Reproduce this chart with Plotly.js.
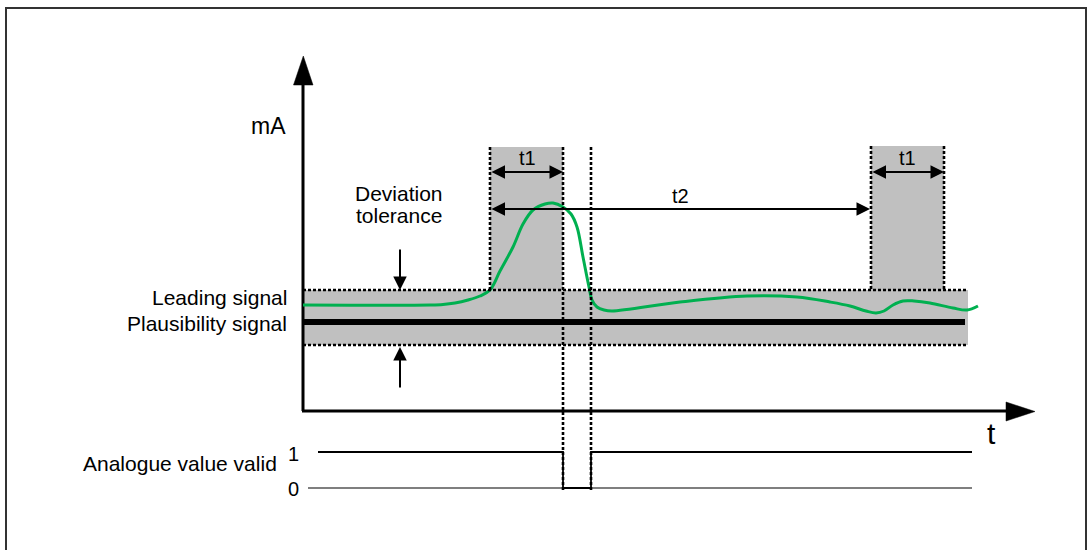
<!DOCTYPE html>
<html>
<head>
<meta charset="utf-8">
<script src="https://cdn.plot.ly/plotly-3.0.1.min.js"></script>
<style>html,body{margin:0;padding:0;background:#fff;}#chart{width:1088px;height:550px;}</style>
</head>
<body>
<div id="chart"></div>
<script>
// ---- Diagram data (diagram units: 1 unit = 1 px, y grows downward) ----
// Leading signal (green curve)
const leadT  = [303, 430, 443, 455, 468, 480, 490, 500, 513, 523, 533, 545, 553, 563, 571, 577, 583, 589, 592, 597, 604, 612, 680, 747, 797, 830, 850, 866, 876, 884, 893, 903, 914, 930, 953, 967, 978];
const leadMA = [305, 305, 304.5, 303, 300, 296, 290, 271, 247, 224, 210, 204, 203, 207, 214, 227, 257, 287, 300, 307, 310, 311, 302, 296, 297, 302, 306, 311, 313, 311, 305, 301, 301, 303, 308, 310, 306];
// Plausibility signal (thick black line)
const plausT  = [303, 965];
const plausMA = [322, 322];
// Analogue value valid (binary signal)
const validT   = [318, 563, 563, 591, 591, 972];
const validLvl = [452, 452, 488, 488, 452, 452];
const zeroT    = [308, 972];
const zeroLvl  = [488, 488];
// Tolerance band and t1 windows
const bandT  = [303, 968];
const bandMA = [290, 345];
const win1T  = [490, 563];
const win2T  = [871, 944];
const winTop = [147, 290];
const faultEndT = 591;
const t2Span = [490, 870];
// Labels
const tickLabels = ["1", "0"];
const rowLabels = ["Leading signal", "Plausibility signal"];

const FONT = '"Liberation Sans", Arial, sans-serif';
const GRAY = '#c0c0c0';
const GREEN = '#00b050';

const traces = [
  // y axis line
  {x: [303, 303], y: [411, 84], mode: 'lines', line: {color: '#000', width: 3}},
  // x axis line
  {x: [302, 1007], y: [411, 411], mode: 'lines', line: {color: '#000', width: 3}},
  // axis arrowheads
  {x: [293.5, 313, 303.3, 293.5], y: [85, 85, 56, 85], mode: 'lines', fill: 'toself', fillcolor: '#000', line: {color: '#000', width: 0.5}},
  {x: [1006, 1006, 1035, 1006], y: [402, 421, 411.5, 402], mode: 'lines', fill: 'toself', fillcolor: '#000', line: {color: '#000', width: 0.5}},
  // plausibility
  {x: plausT, y: plausMA, mode: 'lines', line: {color: '#000', width: 6}},
  // leading
  {x: leadT, y: leadMA, mode: 'lines', line: {color: GREEN, width: 3, shape: 'spline', smoothing: 1}},
  // valid signal
  {x: zeroT, y: zeroLvl, mode: 'lines', line: {color: '#000', width: 1.2}},
  {x: validT, y: validLvl, mode: 'lines', line: {color: '#000', width: 1.8}}
];

const dot = {color: '#000', width: 2.6, dash: '3px,2px'};
const shapes = [
  {type: 'rect', xref: 'x', yref: 'y', x0: 6, x1: 1086, y0: 8, y1: 600, line: {color: '#333', width: 2}, layer: 'below'},
  {type: 'rect', x0: bandT[0], x1: bandT[1], y0: bandMA[0], y1: bandMA[1], fillcolor: GRAY, line: {width: 0}, layer: 'below'},
  {type: 'rect', x0: win1T[0], x1: win1T[1], y0: winTop[0], y1: winTop[1], fillcolor: GRAY, line: {width: 0}, layer: 'below'},
  {type: 'rect', x0: win2T[0], x1: win2T[1], y0: winTop[0] - 1, y1: winTop[1], fillcolor: GRAY, line: {width: 0}, layer: 'below'},
  // band dotted borders
  {type: 'line', x0: bandT[0], x1: bandT[1], y0: bandMA[0], y1: bandMA[0], line: dot},
  {type: 'line', x0: bandT[0], x1: bandT[1], y0: bandMA[1], y1: bandMA[1], line: dot},
  // window verticals
  {type: 'line', x0: win1T[0], x1: win1T[0], y0: winTop[0], y1: winTop[1], line: dot},
  {type: 'line', x0: win1T[1], x1: win1T[1], y0: winTop[0], y1: 490, line: dot},
  {type: 'line', x0: faultEndT, x1: faultEndT, y0: winTop[0], y1: 490, line: dot},
  {type: 'line', x0: win2T[0], x1: win2T[0], y0: winTop[0] - 1, y1: winTop[1], line: dot},
  {type: 'line', x0: win2T[1], x1: win2T[1], y0: winTop[0] - 1, y1: winTop[1], line: dot}
];

function arrow(x0, y0, x1, y1, both) {
  return {x: x1, y: y1, ax: x0, ay: y0, xref: 'x', yref: 'y', axref: 'x', ayref: 'y',
    text: '', showarrow: true, arrowhead: 2, arrowsize: 1.35, arrowwidth: 2, arrowcolor: '#000',
    arrowside: both ? 'end+start' : 'end', startarrowhead: 2, startarrowsize: 1.35};
}
function label(x, y, text, size, xanchor) {
  return {x: x, y: y, xref: 'x', yref: 'y', text: text, showarrow: false,
    font: {family: FONT, size: size, color: '#000'}, xanchor: xanchor || 'center', yanchor: 'middle'};
}

const annotations = [
  arrow(win1T[0], 172, win1T[1], 172, true),
  arrow(win2T[0], 172, win2T[1], 172, true),
  arrow(t2Span[0], 209, t2Span[1], 209, true),
  arrow(400, 248, 400, 290, false),
  arrow(400, 389, 400, 347, false),
  label(268, 126, 'mA', 23),
  label(991, 433, 't', 30),
  label(527, 158, 't1', 20),
  label(907, 158, 't1', 20),
  label(680, 196, 't2', 20),
  label(399, 193, 'Deviation', 21),
  label(399, 215, 'tolerance', 21),
  label(289, 297, rowLabels[0], 21, 'right'),
  label(289, 323, rowLabels[1], 21, 'right'),
  label(279, 463, 'Analogue value valid', 21, 'right'),
  label(293, 454, tickLabels[0], 20),
  label(293, 489, tickLabels[1], 20)
];

const layout = {
  width: 1088, height: 550,
  margin: {l: 0, r: 0, t: 0, b: 0},
  paper_bgcolor: '#fff', plot_bgcolor: '#fff',
  showlegend: false,
  xaxis: {range: [0, 1088], visible: false, fixedrange: true},
  yaxis: {range: [550, 0], visible: false, fixedrange: true},
  shapes: shapes,
  annotations: annotations
};

Plotly.newPlot('chart', traces, layout, {staticPlot: true, displayModeBar: false});
</script>
</body>
</html>
